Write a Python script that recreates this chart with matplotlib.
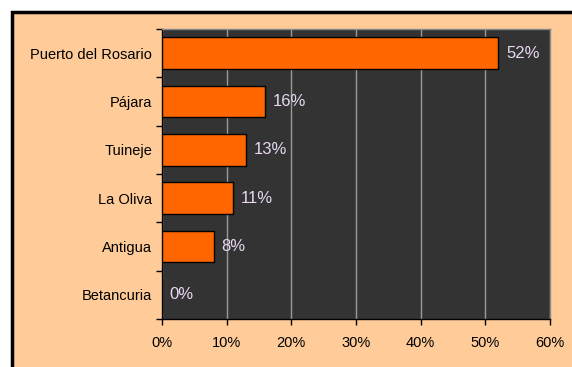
import matplotlib
matplotlib.use("Agg")
import matplotlib.pyplot as plt
from matplotlib.patches import Rectangle
from matplotlib.ticker import FixedLocator, PercentFormatter

plt.rcParams['font.family'] = ['Liberation Sans', 'DejaVu Sans']

municipios = ["Puerto del Rosario", "Pájara", "Tuineje", "La Oliva", "Antigua", "Betancuria"]
porcentajes = [52, 16, 13, 11, 8, 0]

W, H = 572, 367
fig = plt.figure(figsize=(W / 100, H / 100), dpi=100)
fig.patch.set_facecolor("white")

# peach panel with a black frame along the top and left
fig.patches.append(Rectangle((11.5 / W, -0.05), 1.1, (H - 11.5) / H + 0.05,
                             transform=fig.transFigure, facecolor="#FFCC99",
                             edgecolor="black", linewidth=2.5, zorder=-1))

ax = fig.add_axes([162 / W, 1 - 319 / H, (550 - 162) / W, (319 - 29) / H])
ax.set_zorder(1)
ax.set_facecolor("#333333")

y = list(range(len(municipios)))
ax.barh(y, porcentajes, height=0.65, color="#FF6600", edgecolor="black",
        linewidth=1.0, zorder=3)

for yi, v in zip(y, porcentajes):
    ax.text(v + 1.2, yi, f"{v}%", va="center", ha="left", fontsize=12,
            color="#E8D8F0", zorder=4)

ax.set_xlim(0, 60)
ax.set_ylim(len(municipios) - 0.5, -0.5)
ax.set_xticks(range(0, 61, 10))
ax.xaxis.set_major_formatter(PercentFormatter(decimals=0))
ax.set_yticks(y)
ax.set_yticklabels(municipios)
ax.yaxis.set_minor_locator(FixedLocator([i - 0.5 for i in range(len(municipios) + 1)]))

ax.tick_params(axis="y", which="major", length=0, pad=7, labelsize=10.5)
ax.tick_params(axis="y", which="minor", length=4, width=1, direction="out")
ax.tick_params(axis="x", length=4, width=1, direction="out", pad=8, labelsize=10.5)

ax.grid(axis="x", color="#9a9a9a", linewidth=1.0, zorder=1)
ax.set_axisbelow(True)

ax.spines["left"].set_color("black")
ax.spines["bottom"].set_color("black")
ax.spines["top"].set_color("#888888")
ax.spines["right"].set_color("#888888")
for s in ax.spines.values():
    s.set_linewidth(1.0)

fig.savefig("out.png", dpi=100)
